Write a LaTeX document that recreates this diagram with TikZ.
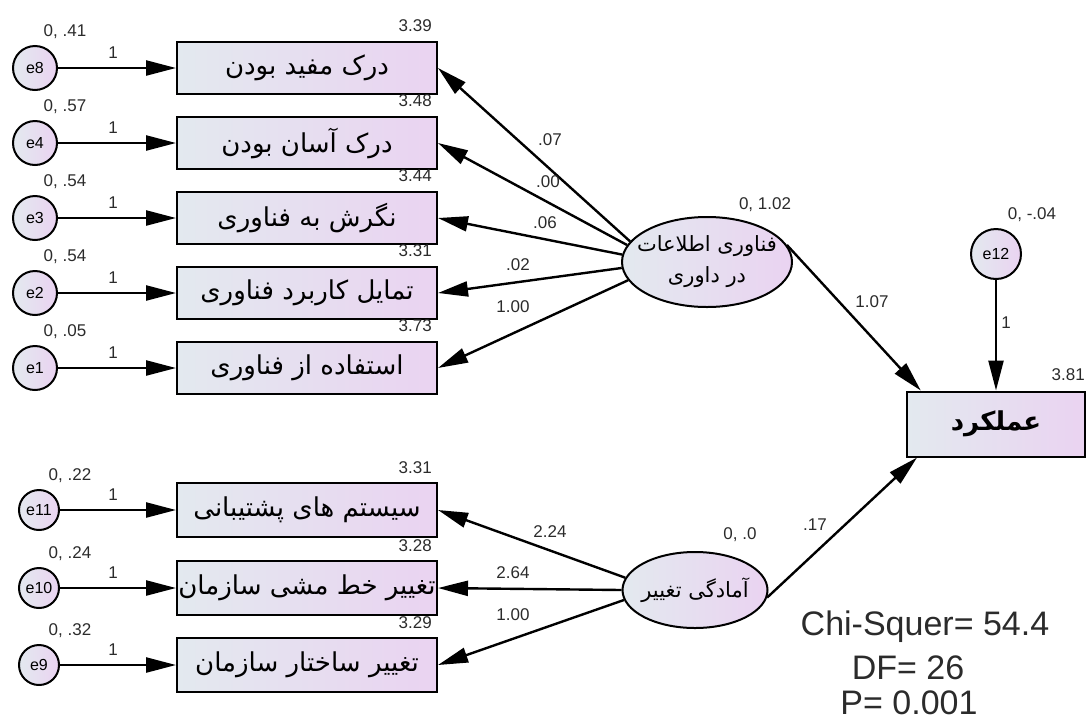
\documentclass[tikz,border=0pt]{standalone}
\usepackage{fontspec}
\setmainfont{Liberation Sans}
\newfontfamily\fa[Script=Arabic]{DejaVu Sans}
\TeXXeTstate=1
\usepackage{tikz}
\usetikzlibrary{shapes.geometric, arrows.meta, positioning}
\definecolor{semleft}{HTML}{E3E9EF}
\definecolor{semright}{HTML}{EAD3F1}
\definecolor{numgray}{HTML}{2B2B2B}
\newcommand{\fatxt}[1]{{\fa\beginR #1\endR}}

\begin{document}
\begin{tikzpicture}[x=1pt, y=-1pt,
    obs/.style={rectangle, draw=black, line width=2pt, left color=semleft, right color=semright, minimum width=260pt, minimum height=52pt, inner sep=0pt, font=\fontsize{26}{30}\selectfont},
    err/.style={circle, draw=black, line width=2pt, left color=semleft, right color=semright, minimum size=44pt, inner sep=0pt, font=\fontsize{16}{18}\selectfont},
    latent/.style={ellipse, draw=black, line width=2pt, left color=semleft, right color=semright, inner xsep=-14pt, inner ysep=-6pt, align=center, font=\fontsize{21}{31}\selectfont},
    num/.style={font=\fontsize{17}{19}\selectfont, color=numgray, inner sep=0pt},
    fit/.style={font=\fontsize{34}{36}\selectfont, color=numgray, inner sep=0pt},
    arrow/.style={-{Triangle[length=30pt, width=15pt]}, line width=2.4pt}
]
\useasboundingbox (0,0) rectangle (1091,721);

% Error terms and indicators, first block
\foreach \row/\en/\var/\mean/\bn/\lbl in {
    68/e8/{0, .41}/3.39/usef/{درک مفید بودن},
    143/e4/{0, .57}/3.48/ease/{درک آسان بودن},
    218/e3/{0, .54}/3.44/attit/{نگرش به فناوری},
    293/e2/{0, .54}/3.31/inten/{تمایل کاربرد فناوری},
    368/e1/{0, .05}/3.73/usage/{استفاده از فناوری}}{
  \node[err] (\en) at (35,\row) {\en};
  \node[obs] (\bn) at (307,\row) {\fatxt{\lbl}};
  \draw[arrow] (\en) -- (\bn);
  \node[num] (\en var) at (65,\row-36) {\var};
  \node[num] (\en w) at (113,\row-15) {1};
  \node[num, anchor=east] (\bn mean) at (432,\row-42) {\mean};
}

% Error terms and indicators, second block
\foreach \row/\en/\var/\mean/\bn/\lbl in {
    510/e11/{0, .22}/3.31/supp/{سیستم های پشتیبانی},
    588/e10/{0, .24}/3.28/policy/{تغییر خط مشی سازمان},
    665/e9/{0, .32}/3.29/struct/{تغییر ساختار سازمان}}{
  \node[err, minimum size=40pt] (\en) at (39,\row) {\en};
  \node[obs, minimum height=54pt] (\bn) at (307,\row) {\fatxt{\lbl}};
  \draw[arrow] (\en) -- (\bn);
  \node[num] (\en var) at (70,\row-34) {\var};
  \node[num] (\en w) at (113,\row-15) {1};
  \node[num, anchor=east] (\bn mean) at (432,\row-42) {\mean};
}

% Latent variables
\node[latent, minimum width=170pt, minimum height=90pt] (itj) at (707,262) {\fatxt{فناوری اطلاعات}\\\fatxt{در داوری}};
\node[num] (itjvar) at (765,205) {0, 1.02};
\node[latent, inner xsep=-6pt, minimum width=145pt, minimum height=76pt] (ready) at (695,590) {\fatxt{آمادگی تغییر}};
\node[num] (readyvar) at (740,535) {0, .0};

% Loadings
\draw[arrow] (itj.165) -- (usef.east);
\draw[arrow] (itj.168) -- (ease.east);
\draw[arrow] (itj.175) -- (attit.east);
\draw[arrow] (itj.184) -- (inten.east);
\draw[arrow] (itj.193) -- (usage.east);
\node[num] (l1) at (550,140) {.07};
\node[num] (l2) at (548,182) {.00};
\node[num] (l3) at (545,223) {.06};
\node[num] (l4) at (518,265) {.02};
\node[num] (l5) at (513,307) {1.00};
\draw[arrow] (ready.170) -- (supp.east);
\draw[arrow] (ready.180) -- (policy.east);
\draw[arrow] (ready.188) -- (struct.east);
\node[num] (l6) at (550,532) {2.24};
\node[num] (l7) at (513,573) {2.64};
\node[num] (l8) at (513,615) {1.00};

% Dependent variable
\node[obs, minimum width=178pt, minimum height=65pt] (perf) at (996,424) {\fatxt{\bfseries عملکرد}};
\node[num, anchor=east] (perfmean) at (1085,375) {3.81};
\node[err, minimum size=50pt] (e12) at (996,254) {e12};
\node[num] (e12var) at (1032,215) {0, -.04};
\draw[arrow] (e12) -- (perf);
\node[num] (e12w) at (1006,323) {1};
\draw[arrow] (itj.12) -- (perf.156);
\node[num] (p1) at (872,302) {1.07};
\draw[arrow] (ready.-6) -- (perf.203);
\node[num] (p2) at (815,525) {.17};

% Fit indices
\node[fit] (chi) at (925,627) {Chi-Squer= 54.4};
\node[fit] (df) at (908,668) {DF= 26};
\node[fit] (pval) at (909,703) {P= 0.001};
\end{tikzpicture}
\end{document}
